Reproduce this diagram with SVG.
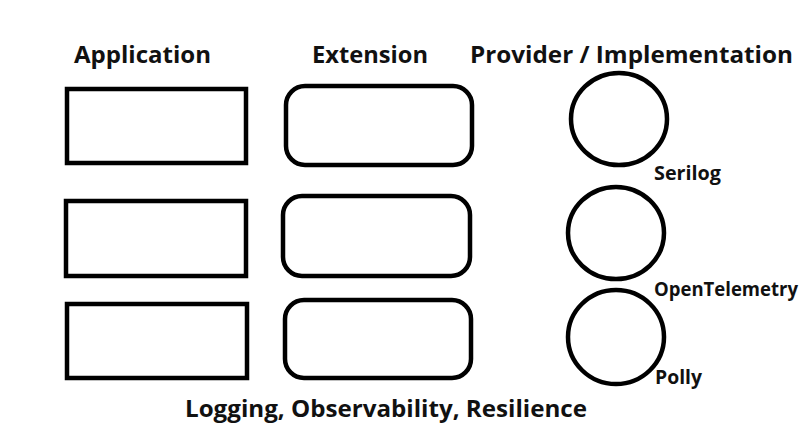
<svg xmlns="http://www.w3.org/2000/svg" width="808" height="437" viewBox="0 0 808 437">
  <style>
    .box { fill: #ffffff; stroke: #000000; stroke-width: 4.5; }
    .hdr { font-family: "Open Sans", "Liberation Sans", sans-serif; font-weight: bold; font-size: 24px; fill: #111111; }
    .lbl { font-family: "Open Sans", "Liberation Sans", sans-serif; font-weight: bold; font-size: 20px; fill: #111111; }
  </style>
  <rect x="0" y="0" width="808" height="437" fill="#ffffff"/>
  <g id="headers">
    <text class="hdr" x="74" y="63" textLength="137" lengthAdjust="spacingAndGlyphs">Application</text>
    <text class="hdr" x="312" y="63" textLength="116" lengthAdjust="spacingAndGlyphs">Extension</text>
    <text class="hdr" x="470" y="63" textLength="323" lengthAdjust="spacingAndGlyphs">Provider / Implementation</text>
  </g>
  <g id="app1"><rect class="box" x="67" y="89" width="179" height="74"/></g>
  <g id="app2"><rect class="box" x="66" y="201" width="180" height="75"/></g>
  <g id="app3"><rect class="box" x="67" y="304" width="180" height="74"/></g>
  <g id="ext1"><rect class="box" x="286" y="86" width="186" height="79" rx="19" ry="19"/></g>
  <g id="ext2"><rect class="box" x="283" y="196" width="187" height="80" rx="19" ry="19"/></g>
  <g id="ext3"><rect class="box" x="285" y="300" width="186" height="78" rx="19" ry="19"/></g>
  <g id="serilog">
    <ellipse class="box" cx="619" cy="119" rx="48" ry="46"/>
    <text class="lbl" x="654" y="180" textLength="67" lengthAdjust="spacingAndGlyphs">Serilog</text>
  </g>
  <g id="opentelemetry">
    <ellipse class="box" cx="616" cy="233" rx="48" ry="46"/>
    <text class="lbl" x="654" y="296" textLength="144" lengthAdjust="spacingAndGlyphs">OpenTelemetry</text>
  </g>
  <g id="polly">
    <ellipse class="box" cx="616" cy="337" rx="48" ry="47"/>
    <text class="lbl" x="655" y="384" textLength="47" lengthAdjust="spacingAndGlyphs">Polly</text>
  </g>
  <g id="connectors"></g>
  <g id="footer">
    <text class="hdr" x="185" y="417" textLength="402" lengthAdjust="spacingAndGlyphs">Logging, Observability, Resilience</text>
  </g>
</svg>
